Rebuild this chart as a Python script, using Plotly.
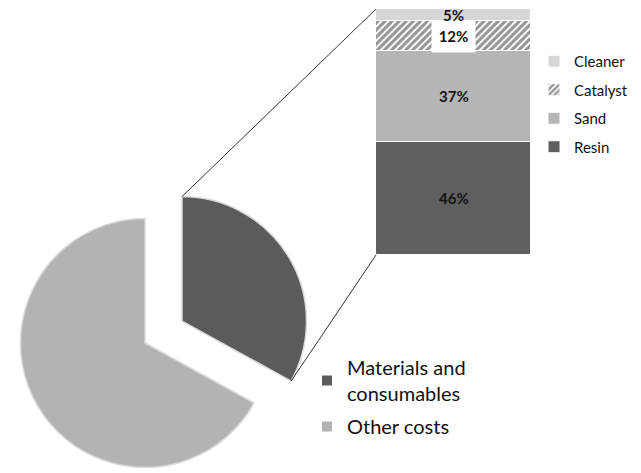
import math
import plotly.graph_objects as go

# ---------------- data ----------------
pie_labels = ["Materials and consumables", "Other costs"]
pie_values = [33, 67]
pie_colors = ["#5b5b5b", "#b3b3b3"]

bar_labels = ["Resin", "Sand", "Catalyst", "Cleaner"]
bar_values = [46, 37, 12, 5]
bar_colors = ["#5f5f5f", "#b5b5b5", "#333333", "#d6d6d6"]

W, H = 641, 473
FONT = "Lato"

# ---------------- layout geometry (pixels) ----------------
PIE_CX, PIE_CY, PIE_R = 145, 343, 124.5
PULL_PX = 43
BAR_X0, BAR_X1, BAR_Y0, BAR_Y1 = 376, 531, 9, 255  # left, right, top, bottom


def px_x(x):
    return x / W


def px_y(y):
    return 1 - y / H


def pie_domain(cx, cy, r):
    return dict(x=[px_x(cx - r), px_x(cx + r)], y=[px_y(cy + r), px_y(cy - r)])


frac = pie_values[0] / sum(pie_values)
mid_ang = math.radians(90 - 360 * frac / 2)
end_ang = math.radians(90 - 360 * frac)
P_CX = PIE_CX + PULL_PX * math.cos(mid_ang)
P_CY = PIE_CY - PULL_PX * math.sin(mid_ang)

fig = go.Figure()

line_col = "#dadada"
# un-pulled pie: only "Other costs" visible
fig.add_trace(go.Pie(
    labels=pie_labels, values=pie_values, sort=False, direction="clockwise",
    rotation=0, domain=pie_domain(PIE_CX, PIE_CY, PIE_R),
    marker=dict(colors=["rgba(0,0,0,0)", pie_colors[1]],
                line=dict(color=["rgba(0,0,0,0)", line_col], width=1.5)),
    textinfo="none", hoverinfo="label+percent", showlegend=False,
))
# pulled-out slice: only "Materials and consumables" visible
fig.add_trace(go.Pie(
    labels=pie_labels, values=pie_values, sort=False, direction="clockwise",
    rotation=0, domain=pie_domain(P_CX, P_CY, PIE_R),
    marker=dict(colors=[pie_colors[0], "rgba(0,0,0,0)"],
                line=dict(color=[line_col, "rgba(0,0,0,0)"], width=1.5)),
    textinfo="none", hoverinfo="label+percent", showlegend=False,
))

# legend entries for the pie
for lab, col in zip(pie_labels, pie_colors):
    name = lab.replace("Materials and ", "Materials and<br>")
    fig.add_trace(go.Scatter(
        x=[None], y=[None], mode="markers", name=name,
        marker=dict(symbol="square", size=10, color=col),
        xaxis="x", yaxis="y", legend="legend", legendgroup=lab,
    ))

# stacked bar
n = len(bar_labels)
for i, (lab, val, col) in enumerate(zip(bar_labels, bar_values, bar_colors)):
    kw = {}
    if lab == "Catalyst":
        kw = dict(pattern=dict(shape="/", fgcolor="#2a2a2a", bgcolor="white",
                               size=5, solidity=0.6))
    fig.add_trace(go.Bar(
        x=["Materials"], y=[val], name=lab, xaxis="x2", yaxis="y2",
        marker=dict(color=col, line=dict(color="white", width=1), **kw),
        legend="legend2", legendgroup=lab, legendrank=n - i, hoverinfo="name+y",
    ))

# value labels
cum = 0
for lab, val in zip(bar_labels, bar_values):
    mid = cum + val / 2
    cum += val
    ann = dict(x="Materials", y=mid, xref="x2", yref="y2", showarrow=False,
               text=f"<b>{val}%</b>", font=dict(family=FONT, size=15, color="#141414"))
    if lab == "Catalyst":
        ann.update(bgcolor="white", width=41,
                   height=val / sum(bar_values) * (BAR_Y1 - BAR_Y0) - 1)
    fig.add_annotation(**ann)

# connector lines
tx, ty = P_CX, P_CY - PIE_R
ex, ey = P_CX + PIE_R * math.cos(end_ang), P_CY - PIE_R * math.sin(end_ang)
for (x0, y0, x1, y1) in [(tx, ty, BAR_X0, BAR_Y0), (ex, ey, BAR_X0, BAR_Y1)]:
    fig.add_shape(type="line", xref="paper", yref="paper",
                  x0=px_x(x0), y0=px_y(y0), x1=px_x(x1), y1=px_y(y1),
                  line=dict(color="#333333", width=1))

fig.update_layout(
    width=W, height=H, margin=dict(l=0, r=0, t=0, b=0),
    paper_bgcolor="white", plot_bgcolor="white",
    barmode="stack", bargap=0,
    font=dict(family=FONT, color="#141414"),
    xaxis=dict(visible=False, domain=[0, 0.01]),
    yaxis=dict(visible=False, domain=[0, 0.01]),
    xaxis2=dict(visible=False, domain=[px_x(BAR_X0), px_x(BAR_X1)],
                range=[-0.5, 0.5], anchor="y2", fixedrange=True),
    yaxis2=dict(visible=False, domain=[px_y(BAR_Y1), px_y(BAR_Y0)],
                range=[0, sum(bar_values)], anchor="x2", fixedrange=True),
    legend=dict(x=px_x(307), y=px_y(348), xanchor="left", yanchor="top",
                font=dict(family=FONT, size=20, color="#111111"),
                bgcolor="rgba(0,0,0,0)", traceorder="grouped", tracegroupgap=4),
    legend2=dict(x=px_x(534), y=px_y(45), xanchor="left", yanchor="top",
                 font=dict(family=FONT, size=15, color="#111111"),
                 bgcolor="rgba(0,0,0,0)", traceorder="grouped",
                 tracegroupgap=6),
)

fig.write_html("out.html")
